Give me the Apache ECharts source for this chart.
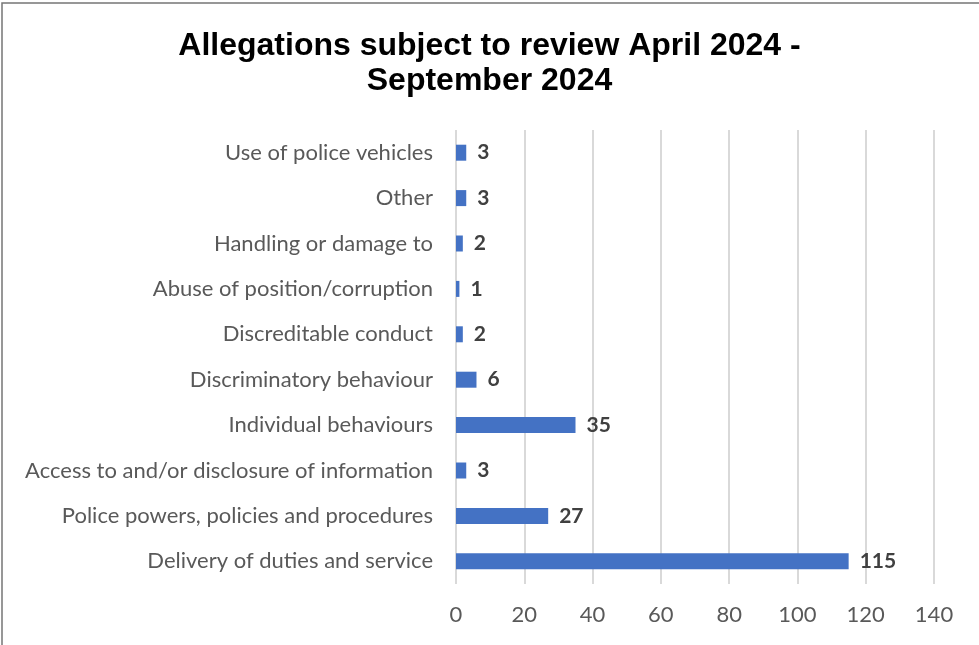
<!DOCTYPE html>
<html>
<head>
<meta charset="utf-8">
<script src="https://cdn.jsdelivr.net/npm/echarts@6/dist/echarts.min.js"></script>
<style>
  html, body { margin: 0; padding: 0; background: #fff; }
  #chart { width: 979px; height: 645px; }
</style>
</head>
<body>
<div id="chart"></div>
<script>
// Allegation categories, listed bottom-to-top as drawn on the category axis
const categories = [
  'Delivery of duties and service',
  'Police powers, policies and procedures',
  'Access to and/or disclosure of information',
  'Individual behaviours',
  'Discriminatory behaviour',
  'Discreditable conduct',
  'Abuse of position/corruption',
  'Handling or damage to',
  'Other',
  'Use of police vehicles'
];
const allegationCounts = [115, 27, 3, 35, 6, 2, 1, 2, 3, 3];
const xTicks = [0, 20, 40, 60, 80, 100, 120, 140];

const chart = echarts.init(document.getElementById('chart'));
chart.setOption({
  animation: false,
  backgroundColor: '#ffffff',
  title: {
    text: 'Allegations subject to review April 2024 -\nSeptember 2024',
    left: 'center',
    top: 24,
    textStyle: {
      fontFamily: 'Liberation Sans, Arial, sans-serif',
      fontWeight: 'bold',
      fontSize: 32,
      lineHeight: 35,
      color: '#000000'
    }
  },
  graphic: [
    {
      type: 'polyline',
      shape: { points: [[2, 645], [2, 3], [979, 3]] },
      style: { stroke: '#767676', lineWidth: 1.5, fill: null }
    }
  ],
  grid: { left: 456, right: 45, top: 130, bottom: 61 },
  xAxis: {
    type: 'value',
    min: xTicks[0],
    max: xTicks[xTicks.length - 1],
    interval: 20,
    axisLine: { show: false },
    axisTick: { show: false },
    splitLine: { lineStyle: { color: '#d9d9d9', width: 2 } },
    axisLabel: {
      margin: 20,
      fontFamily: 'Lato, Open Sans, sans-serif',
      fontSize: 22,
      color: '#595959'
    }
  },
  yAxis: {
    type: 'category',
    data: categories,
    axisLine: { show: false },
    axisTick: { show: false },
    axisLabel: {
      margin: 23,
      fontFamily: 'Lato, Open Sans, sans-serif',
      fontSize: 22,
      color: '#595959'
    }
  },
  series: [{
    type: 'bar',
    data: allegationCounts,
    barWidth: 16,
    itemStyle: { color: '#4472C4' },
    label: {
      show: true,
      position: 'right',
      distance: 11,
      fontFamily: 'Lato, Open Sans, sans-serif',
      fontWeight: 'bold',
      fontSize: 21,
      color: '#404040'
    }
  }]
});
</script>
</body>
</html>
